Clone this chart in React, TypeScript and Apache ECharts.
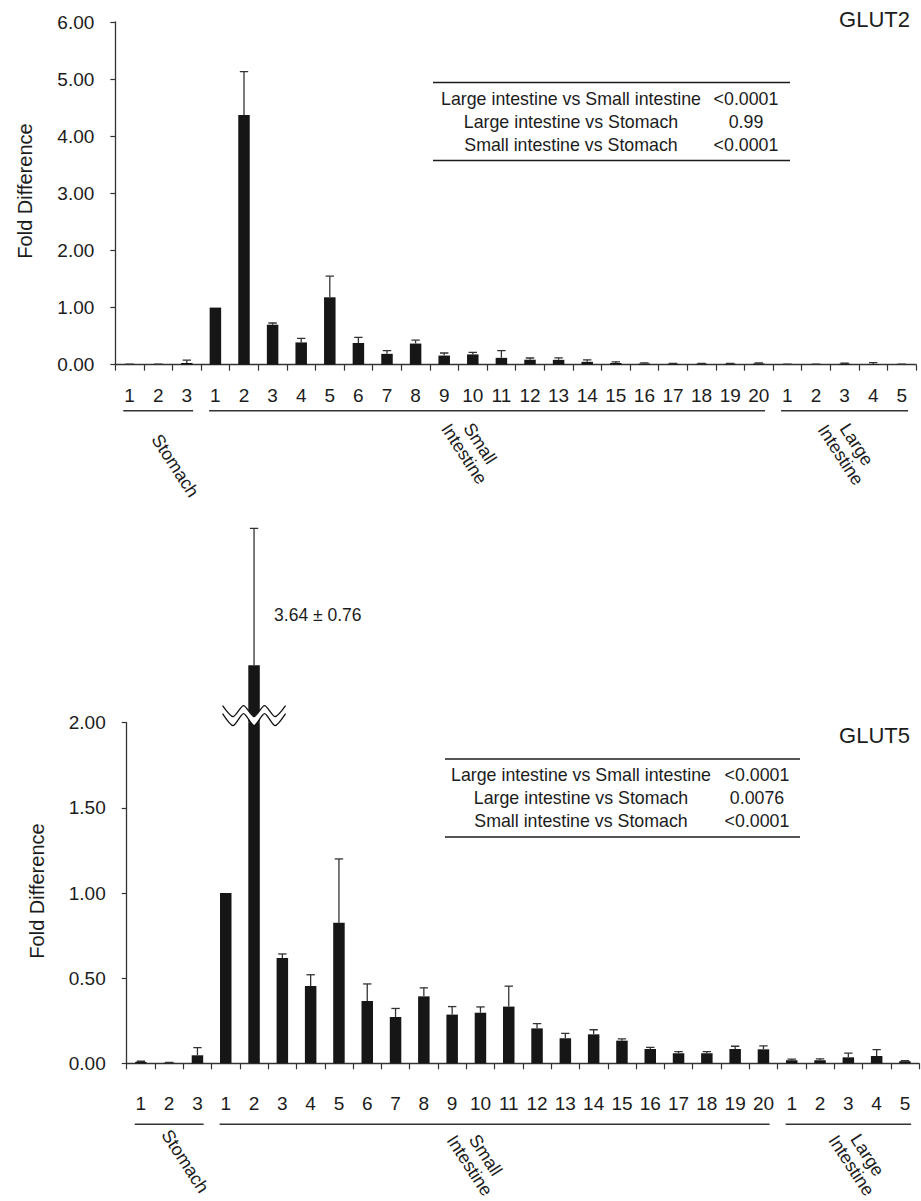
import React, { useEffect, useRef } from "react";
import * as echarts from "echarts";

// ---------- data ----------
const stomachLabels = ["1", "2", "3"];
const smallLabels = ["1", "2", "3", "4", "5", "6", "7", "8", "9", "10", "11", "12", "13", "14", "15", "16", "17", "18", "19", "20"];
const largeLabels = ["1", "2", "3", "4", "5"];
const categories = [...stomachLabels, ...smallLabels, ...largeLabels];

const groupNames = ["Stomach", "Small\nIntestine", "Large\nIntestine"];
const groupSizes = [stomachLabels.length, smallLabels.length, largeLabels.length];

const glut2Mean = [
  0.005, 0.005, 0.03,
  1.0, 4.37, 0.7, 0.39, 1.18, 0.38, 0.19, 0.37, 0.16, 0.18, 0.12, 0.087, 0.085, 0.05, 0.03, 0.02, 0.015, 0.015, 0.015, 0.02,
  0.005, 0.005, 0.015, 0.01, 0.005,
];
const glut2Err = [
  0.003, 0.003, 0.05,
  0, 0.76, 0.03, 0.07, 0.37, 0.1, 0.055, 0.06, 0.045, 0.035, 0.125, 0.03, 0.035, 0.035, 0.02, 0.012, 0.008, 0.006, 0.006, 0.01,
  0.003, 0.003, 0.01, 0.025, 0.003,
];

const glut5Mean = [
  0.008, 0.003, 0.047,
  1.0, 3.64, 0.618, 0.454, 0.826, 0.366, 0.272, 0.393, 0.286, 0.297, 0.333, 0.205, 0.147, 0.17, 0.133, 0.084, 0.059, 0.059, 0.084, 0.082,
  0.018, 0.018, 0.035, 0.043, 0.012,
];
const glut5Err = [
  0.004, 0.002, 0.045,
  0, 0.76, 0.024, 0.066, 0.374, 0.1, 0.05, 0.05, 0.047, 0.034, 0.12, 0.028, 0.029, 0.027, 0.01, 0.01, 0.009, 0.009, 0.016, 0.02,
  0.006, 0.008, 0.025, 0.037, 0.003,
];

const comparisons = ["Large intestine vs Small intestine", "Large intestine vs Stomach", "Small intestine vs Stomach"];
const glut2P = ["<0.0001", "0.99", "<0.0001"];
const glut5P = ["<0.0001", "0.0076", "<0.0001"];

const glut2Ticks = { min: 0, max: 6, interval: 1 };
const glut5Ticks = { min: 0, max: 2, interval: 0.5 };
const glut5BrokenRange = { min: 3.32, max: 4.6 };

// ---------- styles ----------
const FONT = "'Liberation Sans', Arial, Helvetica, sans-serif";
const INK = "#1c1c1c";
const AXIS = "#333333";
const BAR = "#161616";

const groupStarts = groupSizes.map((_, k) => groupSizes.slice(0, k).reduce((a, b) => a + b, 0));

function xAxisCfg(gridIndex: number, margin: number, show = true) {
  return {
    type: "category",
    gridIndex,
    data: categories,
    show,
    axisLine: { show: true, onZero: false, lineStyle: { color: AXIS, width: 1.3 } },
    axisTick: { show: true, length: 6, interval: 0, lineStyle: { color: AXIS, width: 1.2 } },
    axisLabel: { interval: 0, margin, color: INK, fontSize: 19, fontFamily: FONT },
    splitLine: { show: false },
  };
}

function yAxisCfg(gridIndex: number, t: { min: number; max: number; interval?: number }, show = true) {
  return {
    type: "value",
    gridIndex,
    min: t.min,
    max: t.max,
    interval: t.interval,
    show,
    axisLine: { show: true, lineStyle: { color: AXIS, width: 1.3 } },
    axisTick: { show: true, length: 5, lineStyle: { color: AXIS, width: 1.2 } },
    axisLabel: {
      margin: 21,
      color: INK,
      fontSize: 19,
      fontFamily: FONT,
      formatter: (v: number) => v.toFixed(2),
    },
    splitLine: { show: false },
  };
}

function barSeries(axisIndex: number, data: (number | null)[]) {
  return {
    type: "bar",
    xAxisIndex: axisIndex,
    yAxisIndex: axisIndex,
    data,
    barWidth: 11.5,
    clip: true,
    silent: true,
    itemStyle: { color: BAR },
  };
}

function errSeries(axisIndex: number, rows: number[][]) {
  return {
    type: "custom",
    xAxisIndex: axisIndex,
    yAxisIndex: axisIndex,
    clip: true,
    silent: true,
    z: 5,
    data: rows,
    encode: { x: 0, y: [1, 2] },
    renderItem: (params: any, api: any) => {
      const i = api.value(0);
      const lo = api.value(1);
      const hi = api.value(2);
      if (!(hi > lo)) return null;
      const p0 = api.coord([i, lo]);
      const p1 = api.coord([i, hi]);
      const st = { stroke: AXIS, lineWidth: 1.3 };
      return {
        type: "group",
        children: [
          { type: "line", shape: { x1: p0[0], y1: p0[1], x2: p1[0], y2: p1[1] }, style: st },
          { type: "line", shape: { x1: p1[0] - 4.2, y1: p1[1], x2: p1[0] + 4.2, y2: p1[1] }, style: st },
        ],
      };
    },
  };
}

function groupSeries(axisIndex: number, lineDy: number, labelDy: number[], labelDx: number[]) {
  return {
    type: "custom",
    xAxisIndex: axisIndex,
    yAxisIndex: axisIndex,
    clip: false,
    silent: true,
    data: groupStarts.map((s) => [s, 0]),
    encode: { x: 0, y: 1 },
    renderItem: (params: any, api: any) => {
      const k = params.dataIndex;
      const s = groupStarts[k];
      const e = s + groupSizes[k] - 1;
      const a = api.coord([s, 0]);
      const b = api.coord([e, 0]);
      const band = api.size([1, 0])[0];
      const x1 = a[0] - band / 2 + 8;
      const x2 = b[0] + band / 2 - 8;
      const y = a[1] + lineDy;
      return {
        type: "group",
        children: [
          { type: "line", shape: { x1, y1: y, x2, y2: y }, style: { stroke: AXIS, lineWidth: 1.5 } },
          {
            type: "text",
            x: (x1 + x2) / 2 + labelDx[k],
            y: a[1] + labelDy[k],
            rotation: (-57 * Math.PI) / 180,
            style: {
              text: groupNames[k],
              fontSize: 18,
              fontFamily: FONT,
              fill: INK,
              align: "center",
              verticalAlign: "middle",
              lineHeight: 19,
            },
          },
        ],
      };
    },
  };
}

function tableGraphic(topY: number, left: number, right: number, textCx: number, pCx: number, pvals: string[]) {
  const els: any[] = [];
  const rowH = 23;
  els.push({ type: "line", shape: { x1: left, y1: topY, x2: right, y2: topY }, style: { stroke: INK, lineWidth: 1.4 }, z: 50 });
  comparisons.forEach((c, r) => {
    const y = topY + 16 + r * rowH;
    els.push({ type: "text", x: textCx, y, style: { text: c, fontSize: 17.8, fontFamily: FONT, fill: INK, align: "center", verticalAlign: "middle" }, z: 50 });
    els.push({ type: "text", x: pCx, y, style: { text: pvals[r], fontSize: 17.8, fontFamily: FONT, fill: INK, align: "center", verticalAlign: "middle" }, z: 50 });
  });
  const by = topY + 32 + (comparisons.length - 1) * rowH;
  els.push({ type: "line", shape: { x1: left, y1: by, x2: right, y2: by }, style: { stroke: INK, lineWidth: 1.4 }, z: 50 });
  return els;
}

export default function App() {
  const ref = useRef<HTMLDivElement>(null);
  useEffect(() => {
    if (!ref.current) return;
    const chart = echarts.init(ref.current, undefined, { renderer: "svg" });

    const brokenIdx = glut5Mean.findIndex((v) => v > glut5Ticks.max);
    const glut2Rows = glut2Mean.map((m, i) => [i, m, m + glut2Err[i]]);
    const glut5Rows = glut5Mean.map((m, i) => [i, m, m + glut5Err[i]]);
    const brokenBars = glut5Mean.map((v) => (v > glut5Ticks.max ? v : null));
    const brokenRows = glut5Rows.filter((r) => r[1] > glut5Ticks.max);

    const option: any = {
      animation: false,
      backgroundColor: "#ffffff",
      textStyle: { fontFamily: FONT },
      title: [
        { text: "GLUT2", right: 6, top: 3, textStyle: { fontSize: 22, fontWeight: "normal", color: INK, fontFamily: FONT } },
        { text: "GLUT5", right: 6, top: 719, textStyle: { fontSize: 22, fontWeight: "normal", color: INK, fontFamily: FONT } },
      ],
      grid: [
        { left: 115.3, top: 22, width: 800.8, height: 342.7 },
        { left: 126.7, top: 722.7, width: 792.4, height: 340.6 },
        { left: 126.7, top: 492.5, width: 792.4, height: 230.2 },
      ],
      xAxis: [xAxisCfg(0, 21), xAxisCfg(1, 31), xAxisCfg(2, 0, false)],
      yAxis: [yAxisCfg(0, glut2Ticks), yAxisCfg(1, glut5Ticks), yAxisCfg(2, glut5BrokenRange, false)],
      series: [
        barSeries(0, glut2Mean),
        errSeries(0, glut2Rows),
        groupSeries(0, 46, [101, 84, 85], [17, -15, 4]),
        barSeries(1, glut5Mean),
        errSeries(1, glut5Rows),
        groupSeries(1, 61, [98, 97, 97], [16, -17, 11]),
        barSeries(2, brokenBars),
        errSeries(2, brokenRows),
      ],
    };
    chart.setOption(option);

    // graphics: axis names, tables, break mark, annotation
    const p = chart.convertToPixel({ xAxisIndex: 1, yAxisIndex: 1 }, [brokenIdx, glut5Ticks.max]) as number[];
    const bx = p[0];
    const by = p[1];
    const half = 31.5;
    const step = (2 * half) / 6;
    const upper: number[][] = [];
    const lower: number[][] = [];
    for (let k = 0; k <= 6; k++) {
      const x = bx - half + k * step;
      const isTop = k % 2 === 0;
      upper.push([x, by + (isTop ? -17 : -6)]);
      lower.push([x, by + (isTop ? -9 : 3)]);
    }
    const band = [...upper, ...lower.slice().reverse()];

    const annot = `${glut5Mean[brokenIdx].toFixed(2)} ± ${glut5Err[brokenIdx].toFixed(2)}`;

    const graphic: any[] = [
      {
        type: "text",
        x: 25,
        y: 191,
        rotation: Math.PI / 2,
        style: { text: "Fold Difference", fontSize: 20, fontFamily: FONT, fill: INK, align: "center", verticalAlign: "middle" },
      },
      {
        type: "text",
        x: 37,
        y: 891,
        rotation: Math.PI / 2,
        style: { text: "Fold Difference", fontSize: 20, fontFamily: FONT, fill: INK, align: "center", verticalAlign: "middle" },
      },
      ...tableGraphic(82.5, 433, 790, 571, 746, glut2P),
      ...tableGraphic(759, 445, 800, 581, 757, glut5P),
      { type: "polygon", shape: { points: band }, style: { fill: "#ffffff", stroke: "none" }, z: 100 },
      { type: "polyline", shape: { points: upper, smooth: 0.25 }, style: { stroke: "#111", lineWidth: 1.3, fill: "none" }, z: 101 },
      { type: "polyline", shape: { points: lower, smooth: 0.25 }, style: { stroke: "#111", lineWidth: 1.3, fill: "none" }, z: 101 },
      {
        type: "text",
        x: bx + 20,
        y: by - 108,
        style: { text: annot, fontSize: 17.5, fontFamily: FONT, fill: INK, align: "left", verticalAlign: "middle" },
        z: 50,
      },
    ];
    chart.setOption({ graphic });

    return () => chart.dispose();
  }, []);

  return (
    <div
      ref={ref}
      style={{ position: "absolute", left: 0, top: 0, width: 921, height: 1201, background: "#fff" }}
    />
  );
}
